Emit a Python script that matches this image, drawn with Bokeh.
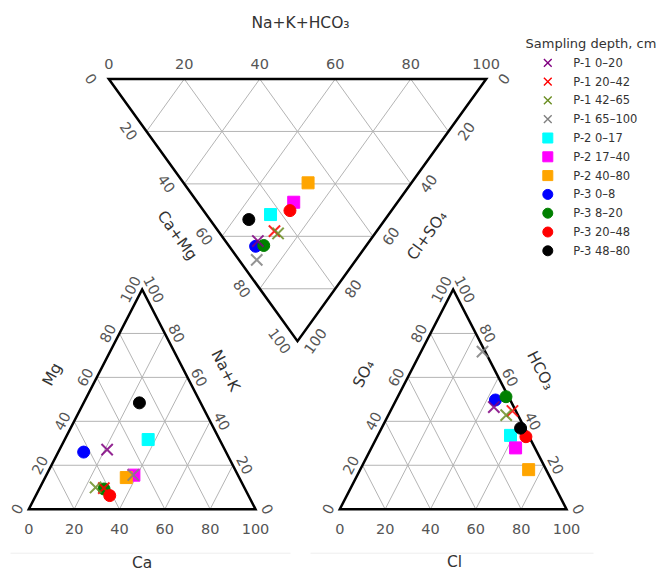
import math
from bokeh.plotting import figure
from bokeh.models import Range1d, ColumnDataSource
from bokeh.core.properties import value
from bokeh.embed import file_html
from bokeh.resources import INLINE

# ---------------- data (percent of meq) ----------------
samples = ["P-1 0–20", "P-1 20–42", "P-1 42–65", "P-1 65–100",
           "P-2 0–17", "P-2 17–40", "P-2 40–80",
           "P-3 0–8", "P-3 8–20", "P-3 20–48", "P-3 48–80"]
markers = ["x", "x", "x", "x", "square", "square", "square",
           "circle", "circle", "circle", "circle"]
colors = ["#800080", "#ff0000", "#6b8e23", "#808080",
          "#00ffff", "#ff00ff", "#ffa500",
          "#0000ff", "#008000", "#ff0000", "#000000"]

# cation triangle
Ca = [21.0, 28.3, 24.5, 38.3, 36.8, 38.6, 35.8, 11.2, 28.6, 32.6, 24.6]
Mg = [27.1, 9.6, 9.9, 15.6, 31.7, 15.5, 14.4, 26.0, 9.2, 6.2, 48.4]
# anion triangle
Cl = [44.7, 53.8, 52.0, 27.1, 58.5, 63.6, 74.3, 43.8, 47.7, 65.6, 61.3]
SO4 = [46.5, 44.7, 42.8, 71.7, 33.6, 27.9, 18.0, 49.7, 51.2, 33.0, 36.9]
# central triangle
NaKHCO3 = [8.6, 14.9, 15.4, 4.7, 17.0, 25.5, 33.0, 7.0, 9.3, 22.9, 10.3]
CaMg = [61.8, 58.0, 58.9, 69.0, 51.7, 47.0, 39.6, 63.8, 63.5, 50.2, 53.6]

ticks = [0, 20, 40, 60, 80, 100]
tick_labels = ["0", "20", "40", "60", "80", "100"]
legend_title = "Sampling depth, cm"

# ---------------- layout ----------------
PAGE_W, PAGE_H = 658, 570
FONT = value("DejaVu Sans")

p = figure(width=PAGE_W, height=PAGE_H, x_range=Range1d(0, PAGE_W), y_range=Range1d(0, PAGE_H),
           output_backend="svg", toolbar_location=None, min_border=0,
           x_axis_location=None, y_axis_location=None, outline_line_color=None)
p.grid.visible = False

# triangle: (x of edge start, x of edge end, y of the edge, y of the opposite vertex) in page px
LEFT = (28.3, 255.0, 508.7, 289.0)
RIGHT = (339.3, 566.0, 508.7, 289.0)
TOP = (108.3, 485.7, 78.5, 340.7)


def tri_xy(tri, a, b):
    x0, x1, ye, yv = tri
    x = x0 + (x1 - x0) * (a + b / 2.0)
    y = ye + (yv - ye) * b
    return x, PAGE_H - y


def draw_triangle(tri, edge_off, side_off, edge_sign):
    x0, x1, ye, yv = tri
    ang = math.atan2(abs(yv - ye), (x1 - x0) / 2.0)
    xs, ys = [], []
    for tv in ticks[1:-1]:
        t = tv / 100.0
        for (a0, b0), (a1, b1) in [((0, t), (1 - t, t)), ((t, 0), (t, 1 - t)),
                                   ((1 - t, 0), (0, 1 - t))]:
            xa, ya = tri_xy(tri, a0, b0)
            xb, yb = tri_xy(tri, a1, b1)
            xs.append([xa, xb])
            ys.append([ya, yb])
    p.multi_line(xs, ys, line_color="#b4b4b4", line_width=1)
    ox, oy = zip(*[tri_xy(tri, a, b) for a, b in [(0, 0), (1, 0), (0, 1), (0, 0), (1, 0)]])
    p.line(list(ox), list(oy), line_color="black", line_width=2.5, line_join="miter")

    style = dict(text_font=FONT, text_font_size="14.5px", text_color="#555555",
                 text_align="center", text_baseline="middle")
    # edge tick labels
    ex, ey = zip(*[tri_xy(tri, t / 100.0, 0) for t in ticks])
    p.text(list(ex), [y + edge_off for y in ey], text=tick_labels, **style)
    # left side tick labels
    lx, ly = zip(*[tri_xy(tri, 0, t / 100.0) for t in ticks])
    p.text([x - side_off for x in lx], list(ly), text=tick_labels,
           angle=edge_sign * ang, **style)
    # right side tick labels
    rx, ry = zip(*[tri_xy(tri, 1 - t / 100.0, t / 100.0) for t in ticks])
    p.text([x + side_off for x in rx], list(ry), text=tick_labels,
           angle=-edge_sign * ang, **style)
    return ang


ang_l = draw_triangle(LEFT, -19.6, 11.5, 1)
ang_r = draw_triangle(RIGHT, -19.6, 11.5, 1)
ang_t = draw_triangle(TOP, 15.5, 18.0, -1)

# axis titles
titles = ["Na+K+HCO₃", "Ca+Mg", "Cl+SO₄", "Mg", "Na+K", "Ca", "SO₄", "HCO₃", "Cl"]
tx = [300.0, 176.7, 426.7, 51.7, 225.0, 141.7, 363.3, 540.0, 454.0]
ty = [22.3, 235.0, 235.0, 374.0, 370.0, 562.0, 373.3, 370.0, 561.7]
ta = [0.0, -ang_t, ang_t, ang_l, -ang_l, 0.0, ang_r, -ang_r, 0.0]
p.text(tx, [PAGE_H - y for y in ty], text=titles, angle=ta, text_font=FONT,
       text_font_size="15.5px", text_color="#333333", text_align="center",
       text_baseline="middle")

# faint base lines under the lower triangles
p.segment(x0=[10, 310], y0=[PAGE_H - 552.7] * 2, x1=[290, 593], y1=[PAGE_H - 552.7] * 2,
          line_color="#eeeeee", line_width=1)

# ---------------- points ----------------
order = [4, 5, 6, 7, 8, 9, 10, 0, 1, 2, 3]
for i in order:
    pts = [tri_xy(LEFT, Ca[i] / 100.0, Mg[i] / 100.0),
           tri_xy(RIGHT, Cl[i] / 100.0, SO4[i] / 100.0),
           tri_xy(TOP, NaKHCO3[i] / 100.0, CaMg[i] / 100.0)]
    src = ColumnDataSource(dict(x=[q[0] for q in pts], y=[q[1] for q in pts]))
    if markers[i] == "x":
        p.scatter("x", "y", source=src, marker="x", size=16, line_color=colors[i],
                  line_width=2, line_alpha=0.85)
    else:
        p.scatter("x", "y", source=src, marker=markers[i], size=12,
                  fill_color=colors[i], line_color=colors[i], line_width=1)

# ---------------- legend ----------------
LEG_X, LEG_MX, LEG_TX = 525.0, 547.3, 572.7
LEG_TITLE_Y, LEG_Y0, LEG_STEP = 43.3, 62.3, 18.8
p.text([LEG_X], [PAGE_H - LEG_TITLE_Y], text=[legend_title], text_font=FONT,
       text_font_size="13px", text_color="#333333", text_align="left",
       text_baseline="middle")
ly = [PAGE_H - (LEG_Y0 + LEG_STEP * k) for k in range(len(samples))]
lsrc = ColumnDataSource(dict(x=[LEG_MX] * len(samples), y=ly, marker=markers,
                             color=colors, label=samples,
                             size=[11 if m == "x" else 10 for m in markers],
                             lw=[1.4 if m == "x" else 1 for m in markers]))
p.scatter("x", "y", source=lsrc, marker="marker", size="size", fill_color="color",
          line_color="color", line_width="lw")
p.text([LEG_TX] * len(samples), ly, text=samples, text_font=FONT, text_font_size="11.5px",
       text_color="#333333", text_align="left", text_baseline="middle")

open("out.html", "w").write(file_html(p, INLINE))
